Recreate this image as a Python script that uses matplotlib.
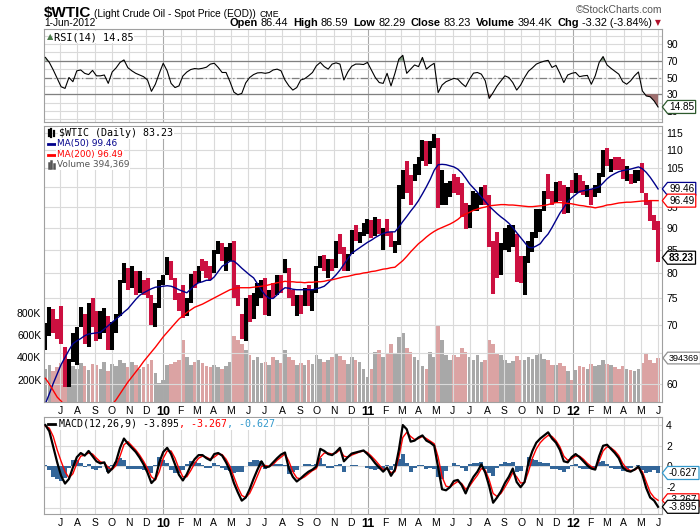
import numpy as np
import pandas as pd
import matplotlib
matplotlib.use("Agg")
import matplotlib.pyplot as plt
from matplotlib.path import Path
from matplotlib.lines import Line2D
from matplotlib import transforms

plt.rcParams['font.family'] = ['Liberation Sans', 'DejaVu Sans']

# ---- weekly data (Fridays, 5-Jun-2009 .. 1-Jun-2012) ----
weeks = pd.date_range('2009-06-05', '2012-06-01', freq='W-FRI')

high = [
    70.3, 73.2, 72.8, 71.0,                 # 2009 Jun
    73.4, 66.0, 64.0, 68.5, 69.5,           # Jul
    73.3, 72.0, 74.0, 75.0,                 # Aug
    72.5, 72.5, 73.0, 71.5,                 # Sep
    70.5, 72.0, 78.5, 82.0, 81.0,           # Oct
    81.5, 80.5, 80.5, 78.5,                 # Nov
    79.0, 75.5, 74.0, 78.5,                 # Dec
    79.5, 83.3, 82.5, 79.0, 76.0,           # 2010 Jan
    77.5, 75.0, 79.8, 80.5,                 # Feb
    81.5, 83.0, 82.5, 81.5,                 # Mar
    85.0, 87.0, 86.5, 85.5, 86.5,           # Apr
    87.0, 77.5, 72.0, 75.0,                 # May
    75.5, 76.0, 78.0, 78.5,                 # Jun
    79.0, 76.5, 78.0, 79.5, 79.5,           # Jul
    82.9, 81.0, 76.5, 75.5,                 # Aug
    75.5, 77.0, 77.5, 76.5,                 # Sep
    81.5, 83.5, 83.8, 83.0, 83.0,           # Oct
    87.0, 88.6, 85.5, 84.0,                 # Nov
    89.5, 90.5, 89.0, 91.0, 92.0,           # Dec
    91.8, 92.5, 92.0, 90.0,                 # 2011 Jan
    92.0, 89.0, 87.0, 100.5,                # Feb
    104.5, 106.9, 103.0, 106.0,             # Mar
    108.0, 113.0, 112.5, 112.5, 114.8,      # Apr
    113.5, 104.5, 101.0, 101.5,             # May
    103.4, 102.5, 101.0, 96.0,              # Jun
    95.5, 99.0, 98.5, 100.0, 100.5,         # Jul
    98.0, 87.0, 89.0, 86.5,                 # Aug
    90.0, 90.5, 90.5, 88.5, 83.5,           # Sep
    83.5, 87.0, 89.0, 94.5,                 # Oct
    94.5, 99.0, 103.4, 99.0,                # Nov
    101.2, 101.5, 100.5, 100.0, 101.8,      # Dec
    103.7, 103.0, 101.5, 100.5,             # 2012 Jan
    99.5, 100.5, 103.7, 110.0,              # Feb
    110.5, 107.5, 108.0, 108.0, 107.5,      # Mar
    105.5, 103.5, 104.5, 104.5,             # Apr
    106.4, 98.5, 96.5, 93.0,                # May
    91.5]                                   # Jun

low = [
    65.5, 68.0, 68.5, 67.5,
    66.5, 59.6, 59.5, 63.5, 63.0,
    69.5, 66.5, 66.0, 69.5,
    67.0, 67.5, 68.5, 65.5,
    65.5, 68.5, 71.5, 78.0, 76.5,
    77.0, 75.5, 76.0, 75.5,
    75.0, 69.9, 69.5, 73.0,
    77.5, 79.5, 78.5, 74.5, 72.5,
    71.2, 71.5, 74.0, 77.0,
    78.0, 80.5, 79.0, 78.5,
    80.0, 84.0, 82.5, 80.5, 82.5,
    75.0, 73.5, 67.5, 67.0,
    70.5, 71.0, 73.5, 75.0,
    71.8, 71.5, 75.0, 75.5, 76.0,
    80.0, 75.0, 73.5, 71.6,
    72.0, 73.5, 73.5, 72.5,
    76.0, 81.0, 80.5, 79.0, 80.5,
    81.0, 84.0, 80.5, 80.5,
    84.0, 87.0, 86.5, 88.0, 88.5,
    87.5, 88.0, 88.5, 85.0,
    88.0, 85.5, 84.3, 86.0,
    97.0, 98.5, 95.5, 101.5,
    103.0, 107.0, 105.5, 106.0, 110.5,
    94.6, 95.5, 95.5, 97.5,
    98.5, 98.0, 92.6, 89.7,
    90.0, 94.0, 94.0, 95.5, 95.5,
    85.5, 75.7, 79.0, 79.5,
    85.0, 84.5, 85.5, 78.2, 78.0,
    75.6, 82.0, 84.5, 87.5,
    89.0, 94.0, 97.0, 95.5,
    96.0, 96.5, 93.3, 93.5, 98.5,
    98.5, 98.5, 98.0, 97.5,
    95.5, 97.5, 98.5, 102.5,
    105.5, 104.0, 104.5, 104.5, 102.0,
    101.5, 100.7, 101.0, 101.5,
    98.3, 95.5, 91.5, 89.5,
    82.3]

close = [
    68.4, 72.0, 69.6, 69.2,
    66.7, 60.4, 63.6, 68.0, 69.5,
    70.9, 67.5, 73.9, 72.7,
    68.0, 69.3, 72.0, 66.0,
    69.9, 71.8, 78.5, 80.5, 77.0,
    77.4, 76.4, 77.5, 76.1,
    75.5, 69.9, 73.4, 78.1,
    79.4, 82.8, 78.0, 74.5, 72.9,
    71.2, 74.1, 79.8, 79.7,
    81.5, 81.2, 80.7, 80.0,
    84.9, 84.9, 83.2, 85.1, 86.2,
    75.1, 71.6, 70.0, 74.0,
    71.5, 73.8, 77.2, 78.9,
    72.1, 76.1, 76.0, 79.0, 78.9,
    80.7, 75.4, 73.5, 75.2,
    74.6, 76.5, 73.7, 76.5,
    81.6, 82.7, 81.2, 81.7, 81.4,
    86.9, 84.9, 81.5, 83.8,
    89.2, 87.8, 88.0, 90.8, 91.4,
    88.0, 91.5, 89.1, 89.3,
    89.0, 85.6, 86.2, 97.9,
    104.4, 101.2, 101.1, 105.4,
    107.9, 112.8, 109.7, 112.3, 113.9,
    97.2, 99.6, 100.1, 100.6,
    100.2, 99.3, 93.0, 91.2,
    94.9, 96.2, 97.2, 99.9, 95.7,
    86.9, 85.4, 82.3, 85.4,
    86.5, 87.2, 87.9, 79.9, 79.2,
    82.9, 86.8, 87.4, 93.3,
    94.3, 99.0, 97.4, 96.8,
    100.9, 99.4, 93.5, 99.7, 98.8,
    101.6, 98.7, 98.5, 99.6,
    97.8, 98.7, 103.2, 109.8,
    106.7, 107.4, 107.1, 106.9, 103.0,
    103.3, 102.8, 103.1, 104.9,
    98.5, 96.1, 91.5, 90.9,
    83.23]

volume_k = [
    300, 330, 280, 310, 350, 420, 380, 320, 300, 350, 320, 290, 340,
    330, 300, 360, 280, 340, 320, 380, 350, 310, 360, 330, 300, 310,
    340, 380, 260, 170,
    200, 330, 340, 360, 380, 560, 400, 330, 360, 380, 350, 320, 310,
    330, 310, 300, 320, 360, 590, 560, 520, 470, 420, 380, 400, 350,
    360, 330, 400, 380, 350, 470, 400, 380, 330, 350, 330, 380, 340,
    420, 390, 360, 380, 400, 440, 410, 380, 340, 400, 380, 360, 300, 220,
    300, 450, 470, 400, 440, 520, 430, 580, 620, 480, 450, 400,
    380, 320, 300, 450, 400, 680, 560, 420, 380, 420, 400, 480, 450,
    400, 380, 420, 360, 380, 560, 520, 440, 420, 380, 350, 370, 410, 380,
    380, 400, 390, 420, 440, 390, 380, 330, 330, 350, 320, 280, 200,
    290, 320, 310, 300, 340, 320, 330, 380, 340, 330, 310, 300, 320,
    300, 290, 280, 300, 350, 440, 380, 350, 394.369]

ma50 = [
    57.0, 58.5, 60.1, 61.6, 63.1, 64.3, 65.5, 66.6, 67.1, 67.5,
    68.0, 68.3, 68.4, 68.5, 68.6, 69.2, 69.8, 70.4, 71.0, 71.6,
    72.3, 72.9, 73.8, 74.7, 75.5, 76.0, 76.4, 76.8, 77.1, 77.2,
    77.3, 77.4, 77.3, 77.0, 76.6, 76.3, 76.0, 76.7, 77.5, 78.0,
    78.2, 78.5, 78.5, 79.2, 80.3, 81.4, 81.9, 82.5, 82.5, 81.8,
    81.0, 80.3, 79.6, 79.0, 77.8, 76.5, 75.5, 74.9, 74.9, 75.6,
    76.4, 77.0, 76.9, 76.7, 76.6, 76.6, 76.6, 76.6, 76.6, 76.8,
    77.0, 77.3, 78.0, 78.8, 79.6, 80.6, 81.8, 83.0, 84.2, 84.8,
    85.4, 86.0, 86.6, 87.1, 87.7, 88.2, 88.6, 88.9, 89.0, 89.0,
    90.1, 91.4, 92.6, 93.9, 95.1, 96.5, 98.2, 100.0, 102.0, 104.4,
    105.9, 106.0, 105.9, 105.6, 105.3, 104.7, 103.7, 102.3, 100.8, 99.7,
    98.6, 97.4, 96.3, 95.1, 94.2, 93.3, 92.5, 91.8, 91.0, 90.0,
    88.8, 87.7, 86.6, 85.5, 85.4, 85.8, 86.3, 87.5, 88.5, 90.0,
    91.7, 93.4, 94.8, 96.2, 97.2, 98.0, 98.8, 99.0, 99.2, 99.4,
    99.7, 100.0, 101.0, 102.1, 102.9, 103.5, 104.0, 104.3, 104.5, 104.7,
    105.0, 105.3, 104.8, 103.8, 102.5, 101.0, 99.46]

ma200 = [
    60.9, 60.0, 59.0, 58.0, 57.4, 56.7, 56.1, 55.8, 55.6, 55.4,
    55.2, 55.1, 55.2, 55.5, 55.8, 56.1, 56.4, 56.9, 57.6, 58.5,
    59.4, 60.3, 61.1, 61.9, 62.7, 63.6, 64.4, 65.2, 66.0, 66.9,
    67.8, 68.6, 69.4, 70.2, 71.0, 71.6, 72.2, 72.7, 73.2, 73.5,
    73.8, 74.2, 74.6, 75.0, 75.4, 75.8, 76.2, 76.6, 76.8, 77.0,
    77.0, 77.0, 77.0, 77.1, 77.2, 77.3, 77.4, 77.6, 77.8, 78.0,
    78.1, 78.3, 78.2, 78.2, 78.1, 78.1, 78.0, 78.1, 78.1, 78.2,
    78.2, 78.3, 78.5, 78.6, 78.8, 79.0, 79.2, 79.3, 79.5, 79.7,
    79.8, 80.0, 80.1, 80.3, 80.4, 80.6, 80.8, 80.9, 81.1, 81.2,
    81.9, 82.6, 83.5, 84.5, 85.4, 86.3, 87.0, 87.8, 88.5, 89.1,
    89.6, 90.0, 90.4, 90.8, 91.3, 91.9, 92.7, 93.2, 93.6, 94.1,
    94.4, 94.7, 94.9, 95.2, 95.3, 95.4, 95.5, 95.5, 95.4, 95.4,
    95.3, 95.2, 95.1, 95.0, 95.0, 95.1, 95.2, 95.3, 95.5, 95.8,
    96.0, 96.0, 95.9, 95.8, 95.7, 95.5, 95.3, 95.2, 95.0, 94.9,
    94.7, 94.9, 95.1, 95.4, 95.5, 95.7, 95.9, 96.0, 96.1, 96.1,
    96.2, 96.3, 96.4, 96.4, 96.5, 96.5, 96.49]

rsi = [
    74, 68, 59, 49, 39, 37, 50, 45, 58, 59,
    55, 53.5, 58.5, 52, 52, 53, 43, 56.6, 61.5, 68,
    71, 61.7, 58, 55, 53, 51, 47, 33.5, 42, 55,
    67, 58, 43, 38, 40, 51.8, 56.5, 59.5, 60.7, 60.2,
    61, 62.3, 66, 67, 62, 56, 56, 45, 32.5, 29.4,
    31, 43.5, 50, 53.5, 55.5, 55.8, 55, 56, 59, 60,
    58, 47, 40, 35, 38, 47, 48.5, 52, 56, 64,
    68, 63, 60, 66, 67.5, 66, 47, 56.6, 63.5, 66,
    66, 65.5, 68, 59, 50, 44, 43, 55, 40, 55,
    72, 76.5, 55, 60, 65, 63, 74, 60, 64, 67,
    32, 41, 45, 47, 49, 48, 43, 39, 48, 55.2,
    56, 54, 46, 25, 32, 40, 46, 52, 50, 44,
    35, 41, 50, 57.5, 61.5, 66, 68, 69.5, 70.5, 62,
    64.5, 55, 44, 53, 55, 56, 51, 52, 52.5, 42,
    52, 68, 75, 65, 61, 57.5, 54, 45, 42, 46,
    52, 56.6, 34, 28, 27, 22, 14.85]

macd = [
    4.0, 3.4, 1.9, 0.4, -0.9, -1.65, -1.2, -0.1, 0.9, 1.3,
    1.05, 1.5, 1.0, 0.5, 0.3, 0.4, -0.6, -0.2, 0.5, 1.8,
    2.7, 2.2, 1.8, 1.4, 0.85, 0.2, -0.6, -1.6, -1.2, 0.4,
    1.4, 1.8, 1.2, 0.2, -0.8, -1.35, -0.75, 0.1, 0.7, 1.1,
    1.1, 0.8, 0.6, 1.2, 1.3, 1.05, 0.4, -0.4, -1.6, -2.5,
    -3.3, -3.0, -2.2, -1.2, -0.3, 0.5, -0.1, 0.0, 0.4, 0.8,
    1.15, 1.35, -0.2, -1.0, -1.45, -1.15, -0.8, -0.5, -0.3, 0.0,
    1.7, 1.5, 1.2, 1.1, 1.4, 1.8, 0.5, 0.9, 1.25, 1.35,
    1.45, 1.55, 1.2, 0.8, 0.3, -0.1, -0.5, -0.1, -0.9, -0.3,
    1.6, 4.0, 3.6, 2.4, 2.5, 2.8, 3.0, 2.5, 2.3, 2.0,
    -0.1, -2.2, -2.3, -2.0, -1.4, -1.3, -1.8, -2.6, -1.7, -1.0,
    -0.5, 0.2, -0.6, -1.9, -3.5, -3.0, -2.4, -1.6, -1.0, -0.2,
    -1.5, -2.0, -1.5, 0.4, 1.5, 2.3, 2.7, 3.0, 3.3, 2.7,
    2.3, 1.6, 0.5, 0.4, 0.9, 1.2, 0.9, 0.5, 0.1, -0.2,
    -0.3, 1.0, 2.0, 2.1, 1.7, 1.3, 0.8, -0.1, -0.4, -0.5,
    -0.3, 0.0, -0.8, -2.1, -3.0, -3.3, -3.895]

signal = [
    3.9, 3.7, 2.9, 1.6, 0.5, -0.5, -1.1, -0.7, 0.3, 1.0,
    1.1, 1.3, 1.2, 0.8, 0.45, 0.35, -0.1, -0.3, 0.1, 1.0,
    2.1, 2.4, 2.0, 1.6, 1.1, 0.5, -0.2, -1.0, -1.3, -0.5,
    0.8, 1.5, 1.5, 0.8, -0.2, -1.0, -1.0, -0.4, 0.3, 0.8,
    1.0, 0.9, 0.7, 0.9, 1.2, 1.15, 0.7, 0.0, -1.0, -2.0,
    -2.8, -3.0, -2.6, -1.8, -0.9, 0.0, 0.1, 0.0, 0.2, 0.6,
    0.9, 1.2, 0.5, -0.5, -1.1, -1.2, -1.0, -0.7, -0.4, -0.2,
    0.9, 1.3, 1.3, 1.2, 1.3, 1.6, 1.0, 0.9, 1.1, 1.25,
    1.4, 1.5, 1.35, 1.0, 0.6, 0.15, -0.3, -0.2, -0.6, -0.5,
    0.9, 2.8, 3.3, 2.9, 2.6, 2.7, 2.9, 2.7, 2.45, 2.2,
    0.9, -1.0, -1.9, -2.0, -1.7, -1.45, -1.65, -2.2, -1.9, -1.35,
    -0.85, -0.2, -0.35, -1.3, -2.6, -2.9, -2.6, -2.0, -1.35, -0.6,
    -1.0, -1.6, -1.55, -0.5, 0.8, 1.7, 2.3, 2.7, 3.0, 2.9,
    2.5, 1.9, 1.0, 0.6, 0.75, 1.0, 1.0, 0.7, 0.3, 0.0,
    -0.2, 0.55, 1.5, 1.9, 1.8, 1.5, 1.05, 0.3, -0.2, -0.4,
    -0.35, -0.1, -0.5, -1.5, -2.5, -3.0, -3.267]

price_grid = [60, 65, 70, 75, 80, 85, 90, 95, 100, 105, 110, 115]
price_labels = [60, 70, 75, 80, 85, 90, 95, 105, 110, 115]   # 65 and 100 sit under the tags
rsi_ticks = [10, 30, 50, 70, 90]
macd_grid = [-4, -2, 0, 2, 4]
macd_labels = [-2, 0, 2, 4]
vol_ticks = [200e3, 400e3, 600e3, 800e3]

HF = 'Liberation Sans'
MONO = 'DejaVu Sans Mono'
W, H = 700, 530

close_a = np.array(close)
up = np.r_[True, np.diff(close_a) >= 0]
bar_cols = np.where(up, '#000000', '#cc1040')
vol_cols = np.where(up, '#a8a8a8', '#dba3a3')
hist = np.array(macd) - np.array(signal)

fig = plt.figure(figsize=(7, 5.3), dpi=100)
fig.patch.set_facecolor('white')


def px_rect(top, bottom, left=44, right=662):
    return [left / W, 1 - bottom / H, (right - left) / W, (bottom - top) / H]


ax_rsi = fig.add_axes(px_rect(29, 122))
ax_vol = fig.add_axes(px_rect(126, 402))
ax = fig.add_axes(px_rect(126, 402))
ax.set_facecolor('none')
ax_macd = fig.add_axes(px_rect(417, 514))

months = pd.date_range('2009-07-01', '2012-06-01', freq='MS')
mlabels = [('%02d' % (d.year % 100)) if d.month == 1 else d.strftime('%b')[0] for d in months]
xmin, xmax = pd.Timestamp('2009-06-02 12:00'), pd.Timestamp('2012-06-08')


def style(a, labels=True):
    a.set_xlim(xmin, xmax)
    for s in a.spines.values():
        s.set_color('#a0a0a0')
        s.set_linewidth(0.8)
    for d in months:
        a.axvline(d, color='#a9a9a9' if d.month == 1 else '#dadada', lw=0.8, zorder=0)
    a.set_xticks(months)
    a.set_xticklabels(mlabels)
    a.tick_params(axis='x', length=0, pad=3, labelsize=7.5, labelbottom=labels)
    for lab in a.get_xticklabels():
        if lab.get_text().isdigit():
            lab.set_fontweight('bold')
            lab.set_fontsize(9)
    a.yaxis.tick_right()
    a.tick_params(axis='y', length=0, pad=3, labelsize=7.5)


# ---- RSI panel ----
style(ax_rsi, labels=False)
ax_rsi.set_ylim(-3.1, 107.9)
for v in range(0, 101, 10):
    ax_rsi.axhline(v, color='#dadada', lw=0.8, zorder=0)
ax_rsi.axhline(70, color='#808080', lw=0.9, zorder=1)
ax_rsi.axhline(30, color='#808080', lw=0.9, zorder=1)
ax_rsi.axhline(50, color='#808080', lw=0.9, ls=(0, (6, 2, 1, 2)), zorder=1)
rsi_a = np.array(rsi)
ax_rsi.fill_between(weeks, rsi_a, 70, where=rsi_a > 70, interpolate=True, color='#7e9c7e', lw=0, zorder=2)
ax_rsi.fill_between(weeks, rsi_a, 30, where=rsi_a < 30, interpolate=True, color='#a07070', lw=0, zorder=2)
ax_rsi.plot(weeks, rsi_a, color='black', lw=0.8, zorder=3)
ax_rsi.set_yticks(rsi_ticks)
ax_rsi.set_yticklabels([str(v) for v in rsi_ticks])

# ---- price + volume panel ----
ax_vol.set_xlim(xmin, xmax)
ax_vol.set_ylim(0, 276 * 8970)
for s in ax_vol.spines.values():
    s.set_visible(False)
ax_vol.bar(weeks, np.array(volume_k) * 1000, width=6.5, color=vol_cols, lw=0, zorder=2)
ax_vol.set_yticks(vol_ticks)
ax_vol.set_yticklabels(['%dK' % (v / 1000) for v in vol_ticks])
ax_vol.tick_params(axis='y', length=0, pad=2, labelsize=7.5)
ax_vol.tick_params(axis='x', bottom=False, labelbottom=False)

style(ax)
ax.set_yscale('log')
ax.set_ylim(57.27, 117.07)
ax.set_yticks(price_labels)
ax.set_yticklabels([str(v) for v in price_labels])
ax.yaxis.set_minor_locator(matplotlib.ticker.NullLocator())
for v in price_grid:
    ax.axhline(v, color='#dadada', lw=0.8, zorder=0)
ax.vlines(weeks, low, high, colors=bar_cols, lw=2.9, zorder=2)
ax.plot(weeks, ma50, color='#00008b', lw=1.0, zorder=3)
ax.plot(weeks, ma200, color='#ff0000', lw=1.0, zorder=3)

# ---- MACD panel ----
style(ax_macd)
ax_macd.set_ylim(-4.59, 4.78)
for v in macd_grid:
    ax_macd.axhline(v, color='#dadada', lw=0.8, zorder=0)
ax_macd.bar(weeks, hist, width=7, color='#336699', lw=0, zorder=2)
ax_macd.plot(weeks, signal, color='#ff0000', lw=1.0, zorder=3)
ax_macd.plot(weeks, macd, color='black', lw=1.6, zorder=4)
ax_macd.set_yticks(macd_labels)
ax_macd.set_yticklabels([str(v) for v in macd_labels])


# ---- value tags on the right edge ----
def tag_style(x0, y0, width, height, mutation_size):
    pad = 0.15 * mutation_size
    x0, y0 = x0 - pad, y0 - pad
    w, h = width + 2 * pad, height + 2 * pad
    tip = h * 0.4
    return Path([(x0 - tip, y0 + h / 2), (x0, y0), (x0 + w, y0), (x0 + w, y0 + h),
                 (x0, y0 + h), (x0 - tip, y0 + h / 2)], closed=True)


def tag(a, ytrans, y, text, edge, bold=False, size=7.2):
    tr = transforms.blended_transform_factory(a.transAxes, ytrans)
    a.text(1 + 7 / 618, y, text, transform=tr, ha='left', va='center', fontsize=size,
           fontweight='bold' if bold else 'normal', family=HF, clip_on=False, zorder=10,
           bbox=dict(boxstyle=tag_style, fc='white', ec=edge, lw=0.9))


tag(ax_rsi, ax_rsi.transData, rsi[-1], '14.85', '#2d5a2d')
tag(ax, ax.transData, ma50[-1], '99.46', '#00008b')
tag(ax, ax.transData, ma200[-1], '96.49', '#ff0000')
tag(ax, ax_vol.transData, volume_k[-1] * 1000, '394369', '#909090', size=6.5)
tag(ax, ax.transData, close[-1], '83.23', 'black', bold=True)
tag(ax_macd, ax_macd.transData, hist[-1], '-0.627', '#3399cc')
tag(ax_macd, ax_macd.transData, signal[-1], '-3.267', '#ff0000')
tag(ax_macd, ax_macd.transData, macd[-1], '-3.895', 'black')

# ---- text runs ----
renderer = fig.canvas.get_renderer()


def run_text(x_px, y_px, parts, ha='left', **common):
    objs, widths = [], []
    for p in parts:
        if isinstance(p, (int, float)):
            objs.append(None)
            widths.append(p)
            continue
        s, kw = p
        kw = dict(common, **kw)
        t = fig.text(0, 1 - y_px / H, s, va='baseline', **kw)
        objs.append(t)
        widths.append(t.get_window_extent(renderer).width)
    x = x_px if ha == 'left' else x_px - sum(widths)
    for o, w in zip(objs, widths):
        if o is not None:
            o.set_x(x / W)
        x += w


B = dict(weight='bold')
N = dict()
run_text(44, 17, [('$WTIC', dict(size=11, weight='bold')), 3,
                  ('(Light Crude Oil - Spot Price (EOD))', dict(size=7.3)), 3,
                  ('CME', dict(size=6.3))], family=HF)
fig.text(662 / W, 1 - 10 / H, '\u00a9StockCharts.com', ha='right', va='center',
         size=7.5, color='#555555', family=HF)
fig.text(44 / W, 1 - 26 / H, '1-Jun-2012', va='baseline', size=7.3, family=HF)
run_text(652, 26, [('Open', B), 2.5, ('86.44', N), 5.5, ('High', B), 2.5, ('86.59', N), 5.5,
                   ('Low', B), 2.5, ('82.29', N), 5.5, ('Close', B), 2.5, ('83.23', N), 5.5,
                   ('Volume', B), 2.5, ('394.4K', N), 5.5, ('Chg', B), 2.5,
                   ('-3.32 (-3.84%)', N)], ha='right', size=7.9, family=HF)
fig.text(658 / W, 1 - 23 / H, '\u25bc', ha='center', va='center', size=5.5,
         color='#b0102a', family='DejaVu Sans')

# ---- panel legends ----
LB = dict(fc='white', ec='none', pad=0.6)


def ftext(x, y, s, **kw):
    return fig.text(x / W, 1 - y / H, s, va='center', bbox=LB, **kw)


def icon_line(x0, x1, y, color, lw=2.0):
    fig.add_artist(Line2D([x0 / W, x1 / W], [1 - y / H, 1 - y / H], color=color, lw=lw,
                          transform=fig.transFigure))


fig.text(50.5 / W, 1 - 37 / H, '\u25b2', ha='center', va='center', size=6, color='#4a7a4a',
         family='DejaVu Sans')
ftext(54, 37, 'RSI(14) 14.85', size=7.4, family=MONO)

for k, hgt in enumerate([6, 8, 5]):
    fig.add_artist(Line2D([(49 + 2.5 * k) / W] * 2, [1 - (133 + hgt / 2) / H, 1 - (133 - hgt / 2) / H],
                          color='black', lw=1.6, transform=fig.transFigure))
ftext(59, 133, '$WTIC (Daily) 83.23', size=7.2, family=MONO)
icon_line(48, 56, 144, '#00008b')
ftext(57, 144, 'MA(50) 99.46', size=6.4, family='DejaVu Sans', color='#00008b')
icon_line(48, 56, 155, '#ff0000')
ftext(57, 155, 'MA(200) 96.49', size=6.4, family='DejaVu Sans', color='#ff0000')
for k, hgt in enumerate([5, 7, 4]):
    fig.add_artist(Line2D([(49 + 2.5 * k) / W] * 2, [1 - 168 / H, 1 - (168 - hgt) / H],
                          color='#555555', lw=1.8, transform=fig.transFigure))
ftext(57, 165, 'Volume 394,369', size=6.4, family='DejaVu Sans', color='#555555')

icon_line(48, 55, 424, 'black')
run_text(59, 427, [('MACD(12,26,9) -3.895', dict(color='black')),
                   (', -3.267', dict(color='#ff0000')),
                   (', -0.627', dict(color='#3399cc'))],
         size=7.2, family=MONO, bbox=LB)

fig.savefig('out.png', dpi=100, facecolor='white')
